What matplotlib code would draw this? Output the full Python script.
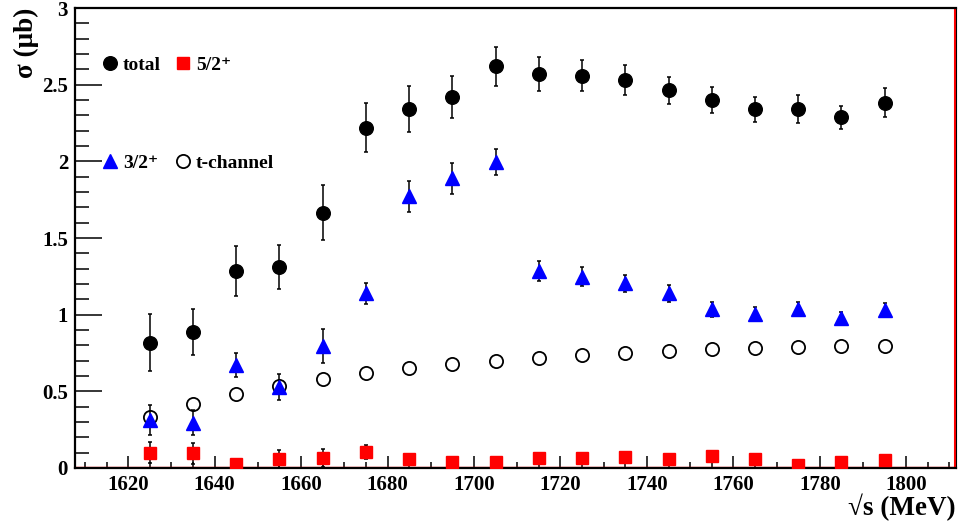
import numpy as np
import matplotlib
matplotlib.use('Agg')
import matplotlib.pyplot as plt
from matplotlib.ticker import MultipleLocator, FuncFormatter

plt.rcParams['font.family'] = ['Liberation Serif', 'DejaVu Serif']
plt.rcParams['font.weight'] = 'bold'

# sqrt(s) bins (MeV)
energy = [1625, 1635, 1645, 1655, 1665, 1675, 1685, 1695, 1705,
          1715, 1725, 1735, 1745, 1755, 1765, 1775, 1785, 1795]

# total cross section (mu b)
total = [0.817, 0.887, 1.284, 1.312, 1.664, 2.218, 2.342, 2.42, 2.621,
         2.568, 2.56, 2.531, 2.464, 2.401, 2.34, 2.34, 2.288, 2.384]
total_err = [0.185, 0.147, 0.165, 0.145, 0.18, 0.16, 0.15, 0.14, 0.128,
             0.11, 0.10, 0.097, 0.088, 0.086, 0.082, 0.09, 0.075, 0.095]

# 3/2+ contribution
j32 = [0.313, 0.295, 0.671, 0.53, 0.795, 1.139, 1.773, 1.889, 1.997,
       1.284, 1.247, 1.204, 1.139, 1.035, 1.002, 1.035, 0.976, 1.03]
j32_err = [0.10, 0.08, 0.08, 0.085, 0.11, 0.07, 0.10, 0.10, 0.087,
           0.065, 0.063, 0.055, 0.055, 0.05, 0.045, 0.045, 0.04, 0.043]

# 5/2+ contribution
j52 = [0.10, 0.096, 0.024, 0.059, 0.065, 0.106, 0.061, 0.041, 0.041,
       0.063, 0.067, 0.07, 0.057, 0.08, 0.057, 0.02, 0.041, 0.052]
j52_err = [0.07, 0.07, 0.03, 0.06, 0.06, 0.045, 0.03, 0.03, 0.03,
           0.03, 0.03, 0.03, 0.03, 0.03, 0.03, 0.02, 0.03, 0.03]

# t-channel
tchan = [0.334, 0.415, 0.48, 0.537, 0.578, 0.617, 0.65, 0.676, 0.70,
         0.719, 0.735, 0.752, 0.765, 0.774, 0.782, 0.787, 0.793, 0.797]

XMIN, XMAX = 1607.7, 1811.5

fig = plt.figure(figsize=(9.6, 5.25), dpi=100)
ax = fig.add_axes([0.0781, 0.1086, 0.9177, 0.876])

ebar = dict(ecolor='black', elinewidth=1.1, capsize=1.6, capthick=1.1, linestyle='none')

h_tc, = ax.plot(energy, tchan, 'o', mfc='white', mec='black', mew=1.3, ms=9.5,
                zorder=3, label='t-channel')
h_tot = ax.errorbar(energy, total, yerr=total_err, fmt='o', color='black', ms=9.8,
                    zorder=4, label='total', **ebar)
h_32 = ax.errorbar(energy, j32, yerr=j32_err, fmt='^', color='#0000ff', ms=9.8,
                   zorder=4, label='3/2\u207a', **ebar)
h_52 = ax.errorbar(energy, j52, yerr=j52_err, fmt='s', color='#ff0000', ms=8.8,
                   zorder=4, label='5/2\u207a', **ebar)

# legend: markers only, total / 3/2+ on the left, 5/2+ / t-channel on the right
ax.legend([h_tot[0], h_32[0], h_52[0], h_tc], ['total', '3/2\u207a', '5/2\u207a', 't-channel'],
          ncol=2, loc='upper left', bbox_to_anchor=(0.031, 0.895), frameon=False,
          fontsize=14, handlelength=0.8, handletextpad=0.25, columnspacing=0.75,
          labelspacing=4.15, borderpad=0, borderaxespad=0)

ax.set_xlim(XMIN, XMAX)
ax.set_ylim(0, 3)

ax.xaxis.set_major_locator(MultipleLocator(20))
ax.xaxis.set_minor_locator(MultipleLocator(5))
ax.yaxis.set_major_locator(MultipleLocator(0.5))
ax.yaxis.set_minor_locator(MultipleLocator(0.1))
ax.yaxis.set_major_formatter(FuncFormatter(lambda v, p: '%g' % v))

ax.tick_params(axis='x', which='major', direction='in', length=8.6, width=1.1,
               labelsize=15, pad=5, top=False)
ax.tick_params(axis='x', which='minor', direction='in', length=4.5, width=1.1, top=False)
ax.tick_params(axis='y', which='major', direction='in', length=19.4, width=1.1,
               labelsize=15, pad=5, right=False)
ax.tick_params(axis='y', which='minor', direction='in', length=10, width=1.1, right=False)

for side in ['top', 'left', 'bottom']:
    ax.spines[side].set_linewidth(1.6)
    ax.spines[side].set_color('black')
ax.spines['right'].set_linewidth(0.8)
ax.spines['right'].set_color('black')

# red frame lines drawn by the original canvas
ax.axhline(0.007, color='red', lw=1.0, zorder=2)
ax.axvline(XMAX - 0.3, color='red', lw=1.5, zorder=2)

ax.text(1.0, -0.085, '\u221as (MeV)', transform=ax.transAxes, ha='right', va='center',
        fontsize=19.5, fontweight='bold')
ax.text(-0.055, 1.0, '\u03c3 (\u03bcb)', transform=ax.transAxes, ha='center', va='top',
        rotation=90, fontsize=19.5, fontweight='bold')

fig.savefig('out.png', dpi=100)
